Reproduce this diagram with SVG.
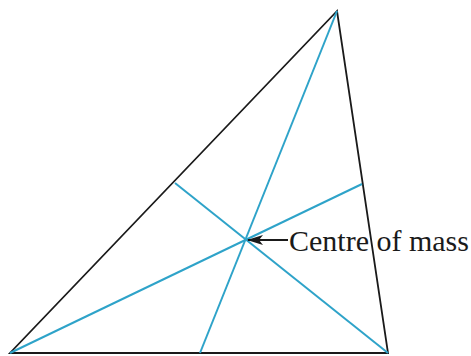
<svg xmlns="http://www.w3.org/2000/svg" width="471" height="356" viewBox="0 0 471 356">
<style>
.side{stroke:#1a1a1a;stroke-width:1.8;fill:none;stroke-linejoin:miter}
.median{stroke:#2ea3c9;stroke-width:2;fill:none}
.lbl{font-family:"Liberation Serif","Times New Roman",serif;font-size:30px;fill:#1a1a1a}
</style>
<defs>
<marker id="ah" markerWidth="16" markerHeight="10" refX="15" refY="5" orient="auto" markerUnits="userSpaceOnUse">
<path d="M0,0 L16,5 L0,10 L4,5 Z" fill="#1a1a1a"/>
</marker>
</defs>
<rect width="471" height="356" fill="#fff"/>
<g id="triangle">
<path class="side" d="M337,11 L10,353 L388,353 Z"/>
</g>
<g id="connectors">
<line class="median" x1="337" y1="11" x2="200" y2="353"/>
<line class="median" x1="10" y1="353" x2="362" y2="184"/>
<line class="median" x1="388" y1="353" x2="175" y2="183"/>
<line x1="288" y1="240" x2="248" y2="240" stroke="#1a1a1a" stroke-width="1.8" marker-end="url(#ah)"/>
</g>
<g id="label">
<text class="lbl" x="289" y="251">Centre of mass</text>
</g>
</svg>
